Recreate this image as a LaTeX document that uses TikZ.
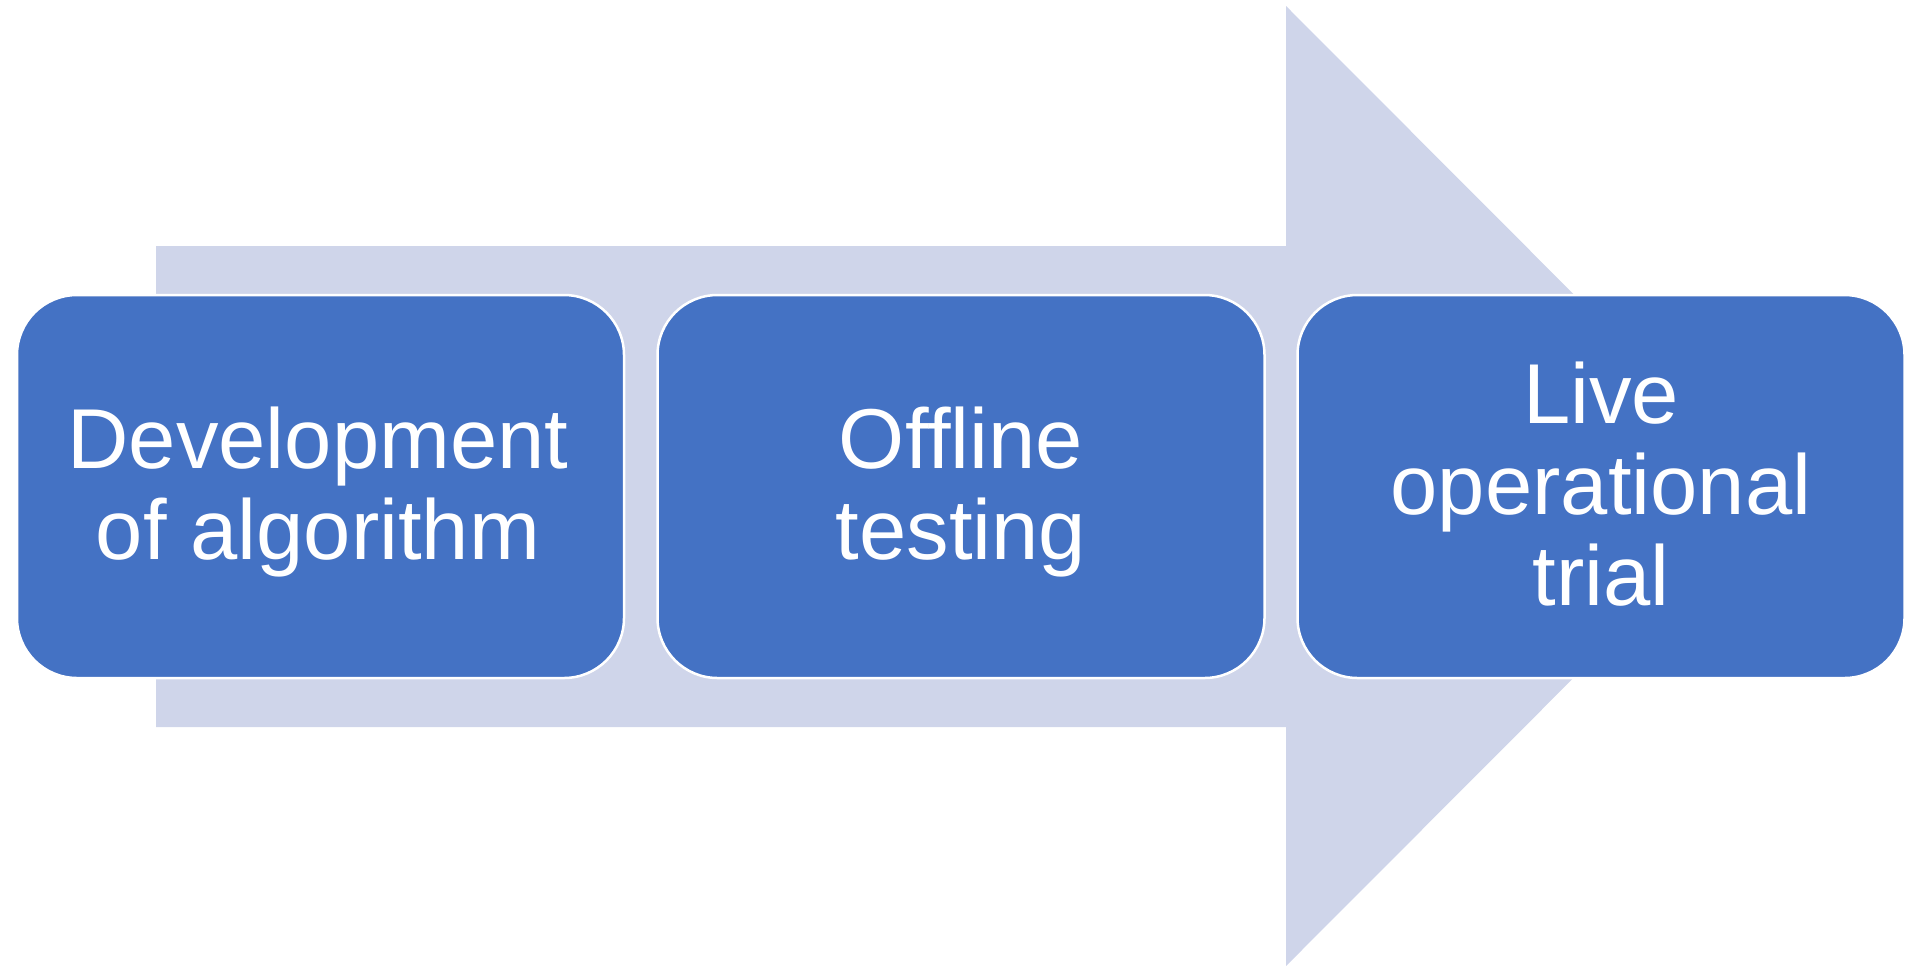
\documentclass[tikz,border=0pt]{standalone}
\usepackage{fontspec}
\setmainfont{Liberation Sans}
\definecolor{boxblue}{HTML}{4472C4}
\definecolor{arrowfill}{HTML}{CFD5EA}
\begin{document}
\begin{tikzpicture}[x=0.5pt,y=-0.5pt,
  stage/.style={fill=boxblue, draw=white, line width=1.25pt, rounded corners=30pt,
    minimum width=303.5pt, minimum height=191.5pt, inner sep=0pt},
  steptext/.style={anchor=base, text=white, inner sep=0pt,
    font=\fontsize{42.5}{45.5}\selectfont}]
\useasboundingbox (0,0) rectangle (1906,965);
% big background arrow
\coordinate (tail top) at (156,246);
\coordinate (tail bottom) at (156,727);
\coordinate (tip) at (1765,486);
\fill[arrowfill] (tail top) -- (1286,246) -- (1286,6) -- (tip) -- (1286,966)
  -- (1286,727) -- (tail bottom) -- cycle;
% stages
\node[stage] (b1) at (320.5,486.5) {};
\node[stage] (b2) at (961,486.5) {};
\node[stage] (b3) at (1601,486.5) {};
\node[steptext] (t1) at (318,468) {\begin{tabular}[t]{@{}c@{}}Development\\of algorithm\end{tabular}};
\node[steptext] (t2) at (961,468) {\begin{tabular}[t]{@{}c@{}}Offline\\testing\end{tabular}};
\node[steptext] (t3) at (1601,423) {\begin{tabular}[t]{@{}c@{}}Live\\operational\\trial\end{tabular}};
\end{tikzpicture}
\end{document}
